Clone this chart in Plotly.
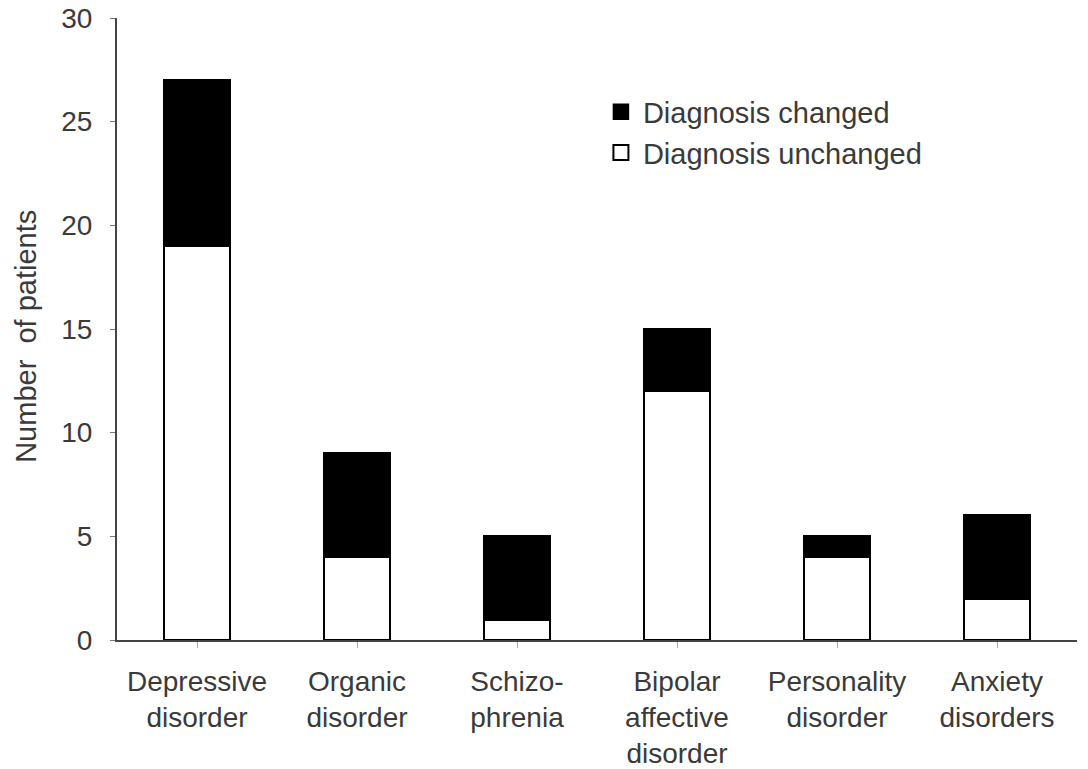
import plotly.graph_objects as go

categories = ["Depressive<br>disorder", "Organic<br>disorder", "Schizo-<br>phrenia",
              "Bipolar<br>affective<br>disorder", "Personality<br>disorder", "Anxiety<br>disorders"]
unchanged = [19, 4, 1, 12, 4, 2]
changed = [8, 5, 4, 3, 1, 4]
y_ticks = [0, 5, 10, 15, 20, 25, 30]

xs = list(range(len(categories)))
FONT = "Liberation Sans, Arial, sans-serif"
TXT = "#3a3a3a"

fig = go.Figure()
fig.add_trace(go.Bar(x=xs, y=unchanged, name="Diagnosis unchanged", width=0.41, showlegend=False,
                     marker=dict(color="white", line=dict(color="black", width=2.5))))
fig.add_trace(go.Bar(x=xs, y=changed, name="Diagnosis changed", width=0.41, showlegend=False,
                     marker=dict(color="black", line=dict(color="black", width=2.5))))
# legend entries
fig.add_trace(go.Scatter(x=[None], y=[None], mode="markers", name="Diagnosis changed",
                         marker=dict(symbol="square", size=15, color="black",
                                     line=dict(color="black", width=1.5))))
fig.add_trace(go.Scatter(x=[None], y=[None], mode="markers", name="Diagnosis unchanged",
                         marker=dict(symbol="square", size=15, color="white",
                                     line=dict(color="black", width=2))))

fig.update_layout(
    width=1088, height=769,
    barmode="stack",
    plot_bgcolor="white", paper_bgcolor="white",
    margin=dict(l=117, r=11, t=18, b=129, autoexpand=False),
    font=dict(family=FONT, size=28, color=TXT),
    showlegend=True,
    legend=dict(x=0.502, y=0.89, xanchor="left", yanchor="top", traceorder="normal",
                bgcolor="rgba(0,0,0,0)", font=dict(size=29, color=TXT),
                itemwidth=34, tracegroupgap=0),
    xaxis=dict(range=[-0.5, 5.5], tickmode="array", tickvals=xs, ticktext=categories,
               showline=True, linecolor="#444", linewidth=2, showgrid=False, zeroline=False,
               ticks="outside", tickson="boundaries", ticklen=6, tickcolor="#aaa",
               ticklabelstandoff=9,
               tickfont=dict(size=28, color=TXT)),
    yaxis=dict(range=[0, 30], tickmode="array", tickvals=y_ticks,
               showline=True, linecolor="#444", linewidth=2, showgrid=False, zeroline=False,
               ticks="outside", ticklen=5, tickcolor="#777", ticklabelstandoff=12,
               ticklabeloverflow="allow",
               tickfont=dict(size=28, color=TXT)),
    annotations=[dict(text="Number  of patients", textangle=-90, xref="paper", yref="paper",
                      x=-0.0948, y=0.489, xanchor="center", yanchor="middle", showarrow=False,
                      font=dict(size=29, color=TXT))],
)
fig.write_html("out.html", config={"displayModeBar": False},
               post_script="document.body.style.margin='0px';")
